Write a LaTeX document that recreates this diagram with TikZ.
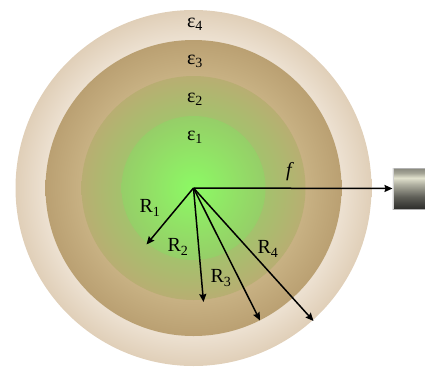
\documentclass[tikz,border=0pt]{standalone}
\usepackage{fontspec}
\setmainfont{Liberation Serif}
\usetikzlibrary{arrows.meta}
\definecolor{cfour}{RGB}{236,224,208}
\definecolor{cfourdk}{RGB}{224,207,184}
\definecolor{cthreein}{RGB}{202,180,134}
\definecolor{cthreeout}{RGB}{186,160,114}
\definecolor{ctwoin}{RGB}{162,196,108}
\definecolor{ctwoout}{RGB}{184,174,114}
\definecolor{conein}{RGB}{140,250,100}
\definecolor{coneout}{RGB}{150,206,104}
\definecolor{mA}{RGB}{45,45,42}
\definecolor{mB}{RGB}{95,95,88}
\definecolor{mC}{RGB}{175,175,160}
\definecolor{mD}{RGB}{226,226,206}
\definecolor{mE}{RGB}{165,165,150}
\definecolor{mF}{RGB}{135,135,124}
\pgfdeclareradialshading{shfour}{\pgfpointorigin}{color(0bp)=(cfour); color(21bp)=(cfour); color(25bp)=(cfourdk); color(50bp)=(cfourdk)}
\pgfdeclareradialshading{shthree}{\pgfpointorigin}{color(0bp)=(cthreein); color(18bp)=(cthreein); color(25bp)=(cthreeout); color(50bp)=(cthreeout)}
\pgfdeclareradialshading{shtwo}{\pgfpointorigin}{color(0bp)=(ctwoin); color(15bp)=(ctwoin); color(25bp)=(ctwoout); color(50bp)=(ctwoout)}
\pgfdeclareradialshading{shone}{\pgfpointorigin}{color(0bp)=(conein); color(25bp)=(coneout); color(50bp)=(coneout)}
\pgfdeclareverticalshading{metal}{100bp}{color(0bp)=(mA); color(25bp)=(mA); color(40bp)=(mB); color(55bp)=(mC); color(63bp)=(mD); color(69bp)=(mE); color(75bp)=(mF); color(100bp)=(mF)}
\tikzset{
  conn/.style={draw, line width=1.5pt, -{Stealth[length=8pt,width=7pt,inset=1pt]}},
  lbl/.style={font=\fontsize{20}{23}\selectfont, inner sep=0pt},
  flbl/.style={font=\fontsize{20}{23}\selectfont\itshape, inner sep=0pt},
}
\begin{document}
\begin{tikzpicture}[x=1pt,y=-1pt]
\useasboundingbox (0,0) rectangle (425,367);
\coordinate (c) at (193.5,188);
\shade[shading=shfour] (c) circle[radius=178pt];
\shade[shading=shthree] (c) circle[radius=148pt];
\shade[shading=shtwo] (c) circle[radius=112pt];
\shade[shading=shone] (c) circle[radius=72pt];
% detector
\node[name=det, anchor=west, inner sep=0pt, minimum width=40pt, minimum height=41pt, shading=metal, draw=gray!60, line width=0.5pt] at (392.5,188.5) {};
\draw[line width=1.5pt, color=gray!35] ([xshift=1pt]det.north west) -- ([xshift=1pt]det.south west);
% end points
\coordinate (e1) at (146.5,244.5);
\coordinate (e2) at (203.5,302);
\coordinate (e3) at (260,320.5);
\coordinate (e4) at (313.5,321);
\draw[conn] (c) -- (det.west);
\draw[conn] (c) -- (e1);
\draw[conn] (c) -- (e2);
\draw[conn] (c) -- (e3);
\draw[conn] (c) -- (e4);
% labels
\node[lbl] (l4) at (195,24) {ε\textsubscript{4}};
\node[lbl] (l3) at (195,61) {ε\textsubscript{3}};
\node[lbl] (l2) at (195,99) {ε\textsubscript{2}};
\node[lbl] (l1) at (195,137) {ε\textsubscript{1}};
\node[flbl] (lf) at (289,172) {f};
\node[lbl] (r1) at (150,208) {R\textsubscript{1}};
\node[lbl] (r2) at (178,247) {R\textsubscript{2}};
\node[lbl] (r3) at (221,278) {R\textsubscript{3}};
\node[lbl] (r4) at (268,249) {R\textsubscript{4}};
\end{tikzpicture}
\end{document}
